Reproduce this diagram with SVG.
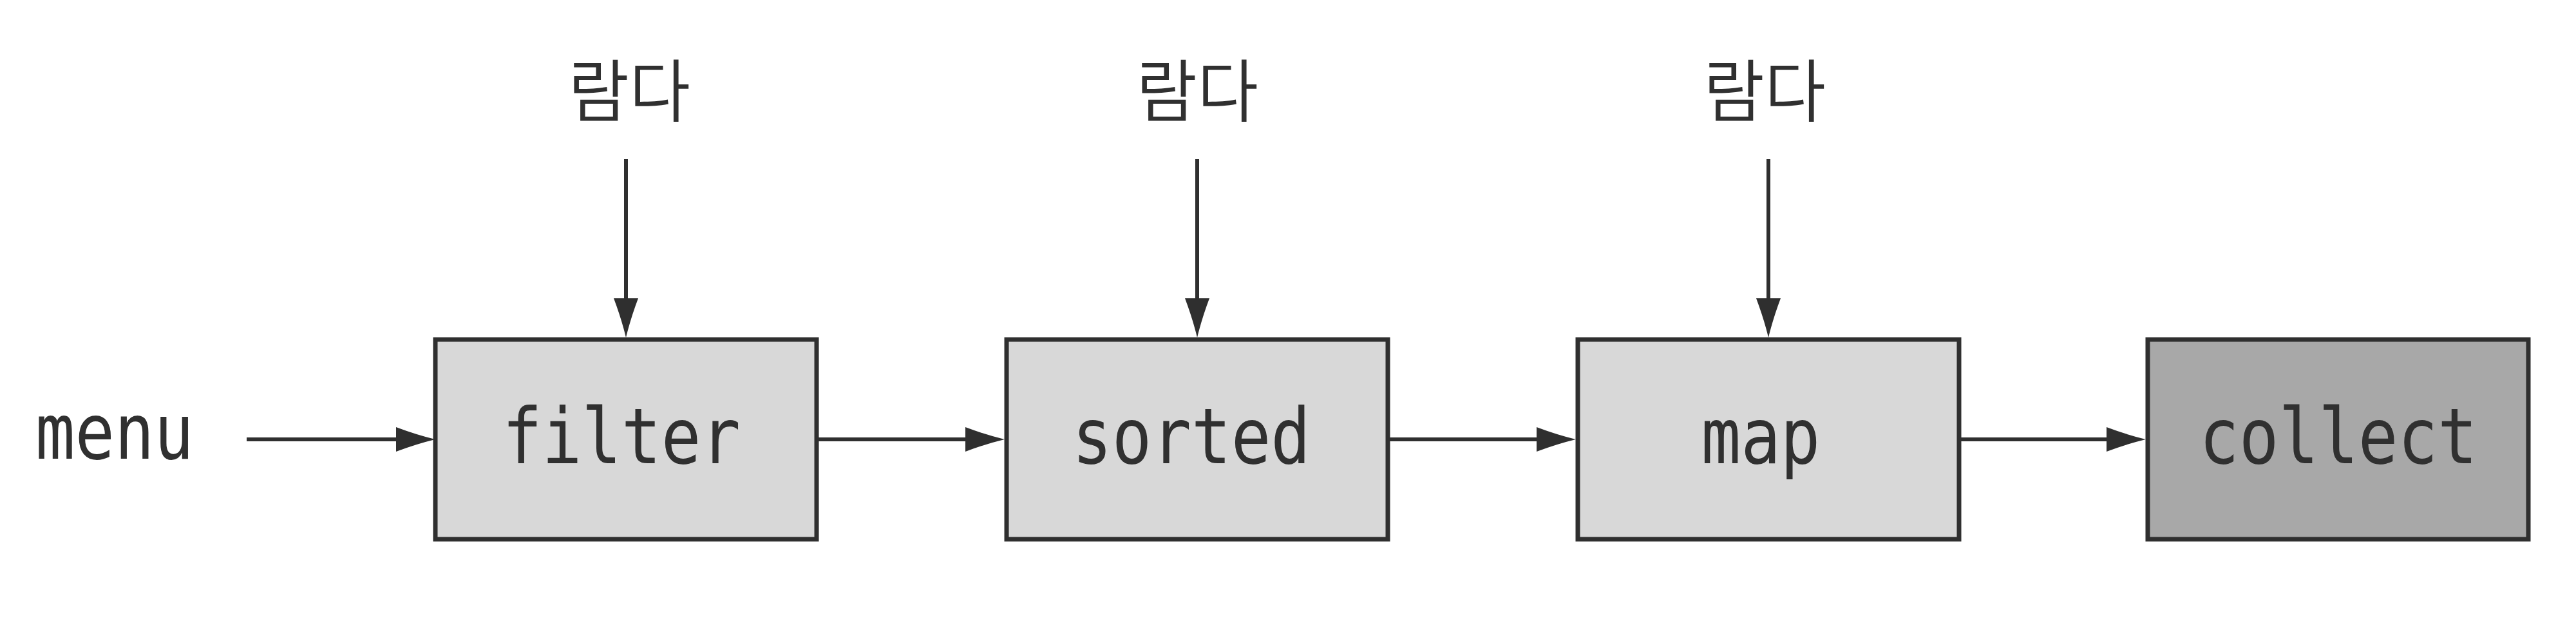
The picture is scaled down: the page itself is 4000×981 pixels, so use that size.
<svg xmlns="http://www.w3.org/2000/svg" width="4000" height="981" viewBox="0 0 4000 981">
<defs>
<style>
.box{fill:#d8d8d8;stroke:#2f2f2f;stroke-width:7}
.dark{fill:#a8a8a8}
.lbl{font-family:"DejaVu Sans Mono","Liberation Mono",monospace;font-size:120px;fill:#303030;text-anchor:middle}
.kr{font-family:"Noto Sans CJK KR","Noto Sans",sans-serif;font-size:106px;font-weight:350;fill:#303030;text-anchor:middle}
.conn{stroke:#2f2f2f;stroke-width:6;fill:none;marker-end:url(#ah)}
</style>
<marker id="ah" markerUnits="userSpaceOnUse" markerWidth="62" markerHeight="38" viewBox="0 0 62 38" refX="30" refY="19" orient="auto">
<path d="M0,0 Q32,12 61,19 Q32,26 0,38 Z" fill="#2f2f2f"/>
</marker>
</defs>
<rect width="4000" height="981" fill="#ffffff"/>
<g id="menu"><text class="lbl" x="178" y="712" textLength="246" lengthAdjust="spacingAndGlyphs">menu</text></g>
<g id="filter"><rect class="box" x="676" y="527" width="592" height="310"/><text class="lbl" x="965" y="719" textLength="370" lengthAdjust="spacingAndGlyphs">filter</text></g>
<g id="sorted"><rect class="box" x="1563" y="527" width="592" height="310"/><text class="lbl" x="1850" y="719" textLength="370" lengthAdjust="spacingAndGlyphs">sorted</text></g>
<g id="map"><rect class="box" x="2450" y="527" width="592" height="310"/><text class="lbl" x="2734" y="719" textLength="185" lengthAdjust="spacingAndGlyphs">map</text></g>
<g id="collect"><rect class="box dark" x="3335" y="527" width="591" height="310"/><text class="lbl" x="3631" y="719" textLength="432" lengthAdjust="spacingAndGlyphs">collect</text></g>
<g id="lambda1"><text class="kr" x="977" y="180" textLength="190" lengthAdjust="spacingAndGlyphs">람다</text></g>
<g id="lambda2"><text class="kr" x="1859" y="180" textLength="190" lengthAdjust="spacingAndGlyphs">람다</text></g>
<g id="lambda3"><text class="kr" x="2740" y="180" textLength="190" lengthAdjust="spacingAndGlyphs">람다</text></g>
<g id="connectors">
<path class="conn" d="M383,682 H645"/>
<path class="conn" d="M1271,682 H1529"/>
<path class="conn" d="M2158,682 H2416"/>
<path class="conn" d="M3045,682 H3301"/>
<path class="conn" d="M972,247 V493"/>
<path class="conn" d="M1859,247 V493"/>
<path class="conn" d="M2746,247 V493"/>
</g>
</svg>
